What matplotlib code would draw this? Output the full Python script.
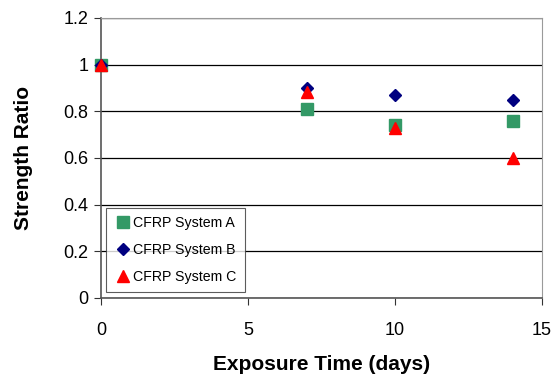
import matplotlib.pyplot as plt
import numpy as np

plt.rcParams['font.family'] = ['Liberation Sans', 'DejaVu Sans']

days = [0, 7, 10, 14]
system_a = [1.0, 0.81, 0.74, 0.76]
system_b = [1.0, 0.90, 0.87, 0.85]
system_c = [1.0, 0.885, 0.73, 0.60]

series = [
    ('CFRP System A', system_a, 's', '#339966', 8),
    ('CFRP System B', system_b, 'D', '#000080', 6),
    ('CFRP System C', system_c, '^', '#ff0000', 9),
]

fig = plt.figure(figsize=(5.56, 3.77), dpi=100)
ax = fig.add_axes([101 / 556, 1 - 298 / 377, 441 / 556, 280 / 377])

for label, values, marker, color, size in series:
    ax.plot(days, values, linestyle='none', marker=marker, markersize=size,
            color=color, markeredgecolor=color, label=label, clip_on=False, zorder=3)

ax.set_xlim(0, 15)
ax.set_ylim(0, 1.2)
ax.set_xticks([0, 5, 10, 15])
ax.set_yticks(np.arange(0, 1.21, 0.2))
ax.set_yticklabels(['0', '0.2', '0.4', '0.6', '0.8', '1', '1.2'])
ax.yaxis.grid(True, color='black', linewidth=0.9)
ax.set_axisbelow(True)

for side in ['top', 'right']:
    ax.spines[side].set_color('#9a9a9a')
for side in ['left', 'bottom']:
    ax.spines[side].set_color('#555555')
    ax.spines[side].set_linewidth(1.2)

ax.tick_params(axis='both', labelsize=13, length=5, color='#333333', direction='out')
ax.tick_params(axis='x', pad=12)
ax.tick_params(axis='y', pad=4)

ax.set_xlabel('Exposure Time (days)', fontsize=15, fontweight='bold', labelpad=12)
ax.set_ylabel('Strength Ratio', fontsize=15, fontweight='bold', labelpad=22)

leg = ax.legend(loc='lower left', bbox_to_anchor=(0.005, 0.01), fontsize=10.2,
                frameon=True, fancybox=False, handletextpad=0.1, handlelength=1.2,
                borderpad=0.6, labelspacing=0.9, borderaxespad=0.2)
leg.get_frame().set_edgecolor('#333333')
leg.get_frame().set_linewidth(0.8)

fig.savefig('out.png', dpi=100)
